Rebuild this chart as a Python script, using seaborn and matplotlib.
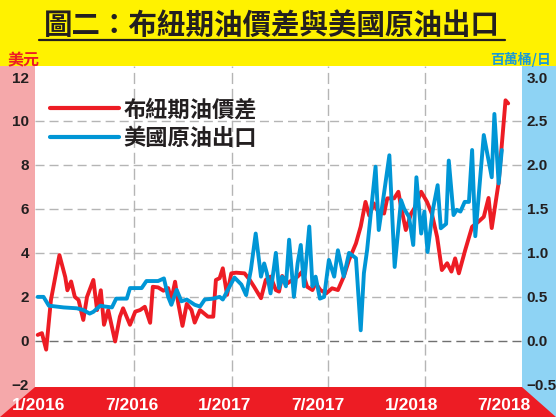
import matplotlib.pyplot as plt
import matplotlib.patches as mpatches
from matplotlib.transforms import ScaledTranslation
from matplotlib.lines import Line2D
import pandas as pd
import seaborn as sns

# Brent-WTI spread (USD)
spread_dates = ['2016-01-01', '2016-01-09', '2016-01-17', '2016-01-26', '2016-02-11', '2016-02-22',
                '2016-02-26', '2016-03-04', '2016-03-11', '2016-03-18', '2016-03-27', '2016-04-03',
                '2016-04-15', '2016-04-22', '2016-04-29', '2016-05-05', '2016-05-13', '2016-05-26',
                '2016-06-04', '2016-06-10', '2016-06-23', '2016-07-03', '2016-07-12', '2016-07-21',
                '2016-07-31', '2016-08-05', '2016-08-15', '2016-08-25', '2016-09-03', '2016-09-09',
                '2016-09-16', '2016-09-22', '2016-09-30', '2016-10-08', '2016-10-17', '2016-10-23',
                '2016-11-02', '2016-11-09', '2016-11-17', '2016-11-27', '2016-12-02', '2016-12-09',
                '2016-12-15', '2016-12-23', '2016-12-31', '2017-01-09', '2017-01-25', '2017-02-03',
                '2017-02-12', '2017-02-25', '2017-03-06', '2017-03-15', '2017-03-25', '2017-03-31',
                '2017-04-06', '2017-04-16', '2017-04-25', '2017-05-05', '2017-05-14', '2017-05-23',
                '2017-06-02', '2017-06-08', '2017-06-17', '2017-06-28', '2017-07-09', '2017-07-20',
                '2017-07-31', '2017-08-10', '2017-08-23', '2017-09-01', '2017-09-10', '2017-09-17',
                '2017-09-26', '2017-10-02', '2017-10-15', '2017-10-21', '2017-11-03', '2017-11-11',
                '2017-11-16', '2017-11-25', '2017-12-05', '2017-12-11', '2017-12-24', '2018-01-04',
                '2018-01-13', '2018-01-23', '2018-02-01', '2018-02-11', '2018-02-19', '2018-02-26',
                '2018-03-05', '2018-03-17', '2018-03-30', '2018-04-11', '2018-04-21', '2018-04-30',
                '2018-05-06', '2018-05-19', '2018-06-01', '2018-06-06']
spread_vals = [0.27, 0.35, -0.4, 1.86, 3.9, 2.9,
               2.3, 2.7, 2.0, 1.86, 0.95, 2.0,
               2.77, 1.4, 2.3, 0.73, 1.4, -0.03,
               1.1, 1.48, 0.73, 1.33, 1.4, 1.55,
               0.82, 2.46, 2.43, 2.28, 2.4, 1.86,
               2.69, 1.71, 0.68, 1.68, 1.4, 0.83,
               1.4, 1.26, 1.1, 1.1, 2.77, 2.85,
               3.3, 2.09, 3.07, 3.1, 3.07, 2.8,
               2.46, 1.94, 2.77, 2.92, 2.31, 2.24,
               2.95, 2.62, 2.77, 2.92, 3.15, 2.46,
               2.31, 2.62, 2.31, 2.16, 2.39, 2.31,
               2.92, 3.68, 4.43, 5.2, 6.32, 5.7,
               6.25, 5.95, 5.79, 6.48, 6.48, 6.78,
               6.1, 5.04, 5.79, 6.02, 6.78, 6.32,
               5.79, 4.73, 3.22, 3.53, 3.15, 3.75,
               3.07, 4.13, 5.19, 5.42, 5.64, 6.5,
               5.13, 7.2, 10.94, 10.8]

# US crude exports (million barrels / day)
export_dates = ['2016-01-01', '2016-01-12', '2016-01-22', '2016-02-19', '2016-03-15', '2016-03-27',
                '2016-04-08', '2016-04-15', '2016-04-28', '2016-05-07', '2016-05-20', '2016-05-28',
                '2016-06-17', '2016-06-23', '2016-07-15', '2016-07-24', '2016-08-15', '2016-08-26',
                '2016-09-03', '2016-09-09', '2016-09-19', '2016-09-28', '2016-10-08', '2016-10-23',
                '2016-11-02', '2016-11-11', '2016-11-27', '2016-12-09', '2016-12-15', '2016-12-28',
                '2017-01-06', '2017-01-19', '2017-01-28', '2017-02-06', '2017-02-15', '2017-02-25',
                '2017-03-03', '2017-03-08', '2017-03-15', '2017-03-25', '2017-03-31', '2017-04-06',
                '2017-04-13', '2017-04-19', '2017-04-28', '2017-05-05', '2017-05-11', '2017-05-17',
                '2017-05-27', '2017-06-02', '2017-06-08', '2017-06-16', '2017-06-24', '2017-07-03',
                '2017-07-13', '2017-07-20', '2017-07-31', '2017-08-10', '2017-08-23', '2017-09-01',
                '2017-09-07', '2017-09-13', '2017-09-20', '2017-09-29', '2017-10-05', '2017-10-15',
                '2017-10-25', '2017-11-04', '2017-11-16', '2017-11-22', '2017-12-01', '2017-12-09',
                '2017-12-15', '2017-12-24', '2017-12-30', '2018-01-05', '2018-01-15', '2018-01-24',
                '2018-01-30', '2018-02-09', '2018-02-14', '2018-02-23', '2018-03-01', '2018-03-08',
                '2018-03-16', '2018-03-24', '2018-03-30', '2018-04-05', '2018-04-21', '2018-05-06',
                '2018-05-11', '2018-05-19', '2018-05-25']
export_vals = [0.5, 0.5, 0.4, 0.38, 0.37, 0.35,
               0.31, 0.33, 0.4, 0.39, 0.38, 0.48,
               0.48, 0.6, 0.6, 0.68, 0.68, 0.71,
               0.5, 0.41, 0.58, 0.45, 0.47, 0.41,
               0.39, 0.47, 0.48, 0.5, 0.47, 0.62,
               0.72, 0.64, 0.52, 0.81, 1.22, 0.73,
               0.88, 0.77, 0.54, 1.0, 0.6, 0.73,
               0.62, 1.15, 0.5, 0.88, 1.09, 0.62,
               1.3, 0.62, 0.73, 0.48, 0.5, 0.92,
               0.73, 1.03, 0.73, 1.0, 0.94, 0.12,
               0.77, 1.03, 1.45, 1.98, 1.26, 1.68,
               2.11, 0.84, 1.6, 1.5, 1.41, 1.09,
               1.86, 1.22, 1.47, 1.01, 1.49, 1.77,
               1.28, 1.33, 2.05, 1.43, 1.49, 1.47,
               1.58, 1.58, 2.17, 1.19, 2.34, 1.86,
               2.58, 1.79, 2.17]

left_ticks = [-2, 0, 2, 4, 6, 8, 10, 12]
right_ticks = [-0.5, 0.0, 0.5, 1.0, 1.5, 2.0, 2.5, 3.0]
x_ticks = ['2016-01-01', '2016-07-01', '2017-01-01', '2017-07-01', '2018-01-01', '2018-07-01']
x_labels = ['1/2016', '7/2016', '1/2017', '7/2017', '1/2018', '7/2018']

RED = '#ed1c24'
BLUE = '#0096d6'
YELLOW = '#fff200'
PINK = '#f5a8aa'
LIGHTBLUE = '#8ed3f4'
DARK = '#231f20'
CJK = ['Noto Sans CJK TC', 'DejaVu Sans']

sns.set_theme(style='white')
plt.rcParams['font.family'] = ['Liberation Sans', 'Noto Sans CJK TC', 'DejaVu Sans']

df_spread = pd.DataFrame({'date': pd.to_datetime(spread_dates), 'value': spread_vals})
df_export = pd.DataFrame({'date': pd.to_datetime(export_dates), 'value': export_vals})

fig = plt.figure(figsize=(5.56, 4.17), dpi=100, facecolor=YELLOW)

# side strips and bottom band (drawn under the axes)
fig.patches.append(mpatches.Rectangle((0, 0), 0.063, 0.8417, transform=fig.transFigure,
                                      facecolor=PINK, edgecolor='none', zorder=-3))
fig.patches.append(mpatches.Rectangle((0.9388, 0), 0.0612, 0.8417, transform=fig.transFigure,
                                      facecolor=LIGHTBLUE, edgecolor='none', zorder=-3))
fig.patches.append(mpatches.Polygon([(0, 0), (1, 0), (0.9388, 0.0719), (0.063, 0.0719)], closed=True,
                                    transform=fig.transFigure, facecolor=RED, edgecolor='none', zorder=-2))

ax = fig.add_axes([0.063, 0.0719, 0.8758, 0.7698])
ax.set_facecolor('white')
ax2 = ax.twinx()

for a in (ax, ax2):
    for s in a.spines.values():
        s.set_visible(False)

# grid
for v in [2, 4, 6, 8, 10]:
    ax.axhline(v, color='#b5b5b5', lw=1, dashes=(6.5, 3.6), zorder=1)
ax.axhline(0, color='#707070', lw=1, dashes=(6.5, 3.6), zorder=1)
for d in x_ticks[1:5]:
    ax.axvline(pd.Timestamp(d), color='#b5b5b5', lw=1, dashes=(8, 3.5), zorder=1)

sns.lineplot(data=df_spread, x='date', y='value', ax=ax, color=RED, linewidth=2.8, zorder=3)
sns.lineplot(data=df_export, x='date', y='value', ax=ax2, color=BLUE, linewidth=2.8, zorder=3)

ax.set_xlim(pd.Timestamp('2015-12-27'), pd.Timestamp('2018-07-02'))
ax.set_ylim(-2.1, 12.5)
ax2.set_ylim(-0.525, 3.125)

ax.set_xlabel('')
ax.set_ylabel('')
ax2.set_ylabel('')

ax.set_yticks(left_ticks)
ax.set_yticklabels([str(t).replace('-', '\u2212') for t in left_ticks])
ax2.set_yticks(right_ticks)
ax2.set_yticklabels([f'{t:.1f}'.replace('-', '\u2212') for t in right_ticks])
ax.tick_params(axis='y', length=0, pad=4.5, labelsize=11, labelcolor=DARK)
ax2.tick_params(axis='y', length=0, pad=3.5, labelsize=11, labelcolor=DARK)
for lab in ax.get_yticklabels() + ax2.get_yticklabels():
    lab.set_fontweight('bold')

ax.set_xticks(pd.to_datetime(x_ticks))
ax.set_xticklabels(x_labels)
ax.tick_params(axis='x', length=0, pad=8, labelsize=12.5, labelcolor='white')
label_shift = [1, -2, -7, -10, -14, -18]
for lab, dx in zip(ax.get_xticklabels(), label_shift):
    lab.set_fontweight('bold')
    lab.set_transform(lab.get_transform() + ScaledTranslation(dx / 100, 0, fig.dpi_scale_trans))

# legend
handles = [Line2D([], [], color=RED, lw=3), Line2D([], [], color=BLUE, lw=3)]
leg = ax.legend(handles, ['布紐期油價差', '美國原油出口'], loc='upper left',
                bbox_to_anchor=(0.031, 0.90), frameon=False, handlelength=3.1,
                handletextpad=0.2, labelspacing=0.26, borderpad=0, borderaxespad=0,
                prop={'family': CJK, 'weight': 'bold', 'size': 16})
for t in leg.get_texts():
    t.set_color(DARK)

# title and unit labels
fig.text(0.489, 1 - 25.5 / 417, '圖二：布紐期油價差與美國原油出口', ha='center', va='center',
         fontsize=20.5, fontweight='heavy', color=DARK, family=CJK)
fig.add_artist(Line2D([39 / 556, 505 / 556], [1 - 39.7 / 417] * 2, color=DARK, lw=1.6,
                      transform=fig.transFigure))
fig.text(7 / 556, 1 - 60 / 417, '美元', ha='left', va='center', fontsize=11.5,
         fontweight='bold', color=RED, family=CJK)
fig.text(551 / 556, 1 - 59.5 / 417, '百萬桶/日', ha='right', va='center', fontsize=10,
         fontweight='bold', color='#1b9ad6', family=CJK)

fig.savefig('out.png', dpi=100, facecolor=YELLOW)
